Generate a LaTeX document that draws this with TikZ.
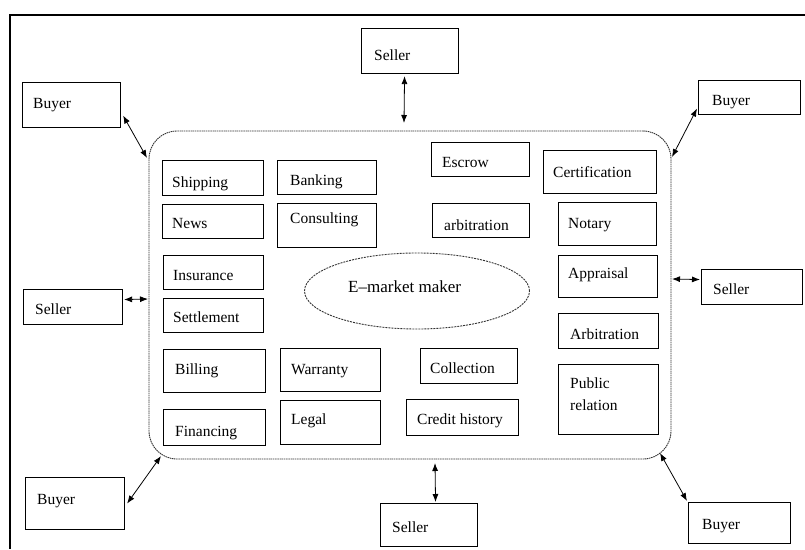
\documentclass[tikz,border=0pt]{standalone}
\usepackage{fontspec}
\setmainfont{Liberation Serif}
\usetikzlibrary{arrows.meta,shapes.geometric}
\newcommand\mybox[8]{%
  \node[box,anchor=north west,minimum width={(#4-#2)*1pt},minimum height={(#5-#3)*1pt}] (#1) at (#2,#3) {};
  \node[lbl] (#1t) at (#6,#7) {#8};}
\begin{document}
\begin{tikzpicture}[x=1pt,y=-1pt,
  box/.style={draw=black,line width=1.1pt,rectangle,inner sep=0pt},
  lbl/.style={inner sep=0pt,anchor=base west,font=\fontsize{15.5}{22}\selectfont},
  dbl/.style={line width=0.8pt,{Latex[length=8pt,width=6pt]}-{Latex[length=8pt,width=6pt]}},
  frameline/.style={line width=1.3pt}]
\useasboundingbox (0,0) rectangle (805,549);
\draw[frameline] (805,15) -- (10,15) -- (10,549);
% market area
\node[draw=gray!40!black,dash pattern=on 1.5pt off 0.7pt,line width=0.9pt,rounded corners=28pt,
  minimum width=522pt,minimum height=328pt,inner sep=0pt] (mkt) at (410,295) {};
\node[ellipse,draw=gray!40!black,dash pattern=on 2pt off 1pt,line width=0.9pt,
  minimum width=225pt,minimum height=76pt,inner sep=0pt] (em) at (417,291) {};
\node[lbl,font=\fontsize{17}{20}\selectfont] (emt) at (348,292) {E--market maker};
% outer parties
\mybox{st}{361}{28}{458}{73}{374}{60}{Seller}
\mybox{btl}{22}{82}{120}{127}{33}{108}{Buyer}
\mybox{btr}{698}{80}{800}{114}{712}{105}{Buyer}
\mybox{ls}{23}{289}{122}{324}{35}{314}{Seller}
\mybox{rs}{701}{269}{802}{304}{713}{294}{Seller}
\mybox{bbl}{25}{477}{124}{529}{37}{504}{Buyer}
\mybox{sb}{380}{503}{477}{546}{392}{532}{Seller}
\mybox{bbr}{688}{502}{790}{543}{702}{529}{Buyer}
% services
\mybox{ship}{162}{160}{263}{195}{172}{187}{Shipping}
\mybox{news}{162}{204}{263}{238}{172}{228}{News}
\mybox{bank}{277}{160}{376}{194}{290}{185}{Banking}
\mybox{cons}{277}{203}{376}{247}{290}{223}{Consulting}
\mybox{escr}{431}{142}{529}{176}{442}{167}{Escrow}
\mybox{arbl}{432}{203}{529}{237}{444}{230}{arbitration}
\mybox{cert}{543}{150}{656}{193}{553}{177}{Certification}
\mybox{nota}{558}{202}{656}{245}{568}{228}{Notary}
\mybox{insu}{163}{255}{263}{289}{173}{280}{Insurance}
\mybox{sett}{163}{298}{263}{332}{173}{322}{Settlement}
\mybox{appr}{558}{255}{657}{297}{568}{278}{Appraisal}
\mybox{bill}{163}{349}{265}{392}{175}{374}{Billing}
\mybox{fina}{163}{409}{265}{445}{175}{436}{Financing}
\mybox{warr}{280}{348}{380}{391}{291}{374}{Warranty}
\mybox{lega}{280}{400}{380}{444}{291}{424}{Legal}
\mybox{coll}{420}{348}{517}{383}{430}{373}{Collection}
\mybox{cred}{406}{399}{518}{435}{417}{424}{Credit history}
\mybox{arbu}{558}{313}{658}{348}{570}{339}{Arbitration}
\node[box,anchor=north west,minimum width=100pt,minimum height=70pt] (publ) at (558,364) {};
\node[lbl,anchor=north west,align=left] (publt) at (570,378) {Public\\relation};
% connector ends on the market boundary
\coordinate (m1) at (404,123);
\coordinate (m2) at (147,158);
\coordinate (m3) at (672,157);
\coordinate (m4) at (148,299);
\coordinate (m5) at (672,279);
\coordinate (m6) at (161,456);
\coordinate (m7) at (435,463);
\coordinate (m8) at (660,453);
\draw[dbl] ([xshift=-5.5pt,yshift=-2pt]st.south) -- (m1);
\draw[dbl] ([xshift=2pt,yshift=-10.5pt]btl.east) -- (m2);
\draw[dbl] ([xshift=-1pt,yshift=-11pt]btr.west) -- (m3);
\draw[dbl] ([xshift=1pt,yshift=7.5pt]ls.east) -- (m4);
\draw[dbl] (m5) -- ([xshift=-1pt,yshift=7.5pt]rs.west);
\draw[dbl] ([xshift=2pt]bbl.east) -- (m6);
\draw[dbl] ([xshift=6.5pt,yshift=1pt]sb.north) -- (m7);
\draw[dbl] ([xshift=-1pt,yshift=1pt]bbr.north west) -- (m8);
\end{tikzpicture}
\end{document}
